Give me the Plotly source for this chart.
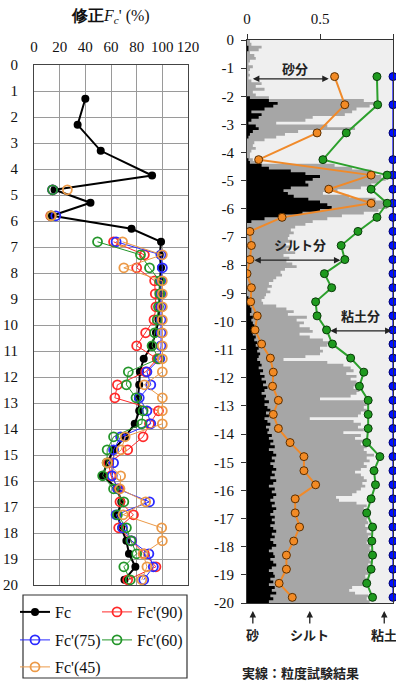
import plotly.graph_objects as go

W, H = 396, 688
OFF = 0  # page body margin is removed by the post script below

# ---------------- data ----------------
DEPTH = [1.3, 2.3, 3.3, 4.25, 4.8, 5.3, 5.8, 6.3, 6.8, 7.3, 7.8, 8.3, 8.8, 9.3, 9.8,
         10.3, 10.8, 11.3, 11.8, 12.3, 12.8, 13.3, 13.8, 14.3, 14.8, 15.3, 15.8,
         16.3, 16.8, 17.3, 17.8, 18.3, 18.8, 19.3, 19.8]

FC = [40, 34, 52, 92, 16, 44, 14, 76, 99, 98, 99, 98, 98, 97.5, 97, 95, 91.5, 85.5,
      82.5, 82, 81, 82, 78.5, 71, 62, 57, 53.5, 65, 68, 65, 68, 72, 74, 79, 70.5]
FC90 = [None, None, None, None, 14.5, None, 13, None, 62, 86, 80, 94, 94.5, 95, 93.5,
        87, 80, 96, 87, 65, 63, 97, 90, 85, 73, 58, 60, 66, 67, 77.5, 66, 76, 86, 95, 73]
FC75 = [None, None, None, None, 14.5, None, 17, None, 64, 99, 100, 99, 99, 99, 99,
        99, 99, 98, 88, 91, 82, 88, 91, 67.5, 62, 62, 61, 65, 90, 64, 69, 76, 89.5, 93, 85.5]
FC60 = [None, None, None, None, 14.5, None, 13.5, None, 49.5, 83, 90, 98, 98, 97, 96,
        94, 92, 97, 73.5, 72, 79.5, 85, 84, 62, 57, 57, 53.5, 62, 70, 65, 72, 75.5, 80, 70, 75]
FC45 = [None, None, None, None, 26, None, 13.5, None, 69, 100, 70, 100, 100, 100, 100,
        100, 100, 100, 100, 86, 100, 100, 100, 71, 68, 57, 67.5, 67, 87, 69.5, 99.5, 100, 85, 88, 84]

# grain size test results (cumulative fractions)
SAND = [0.60, 0.67, 0.48, 0.08, 0.85, 0.56, 0.85, 0.24, 0.02, 0.03, 0.02, 0.00, 0.03,
        0.025, 0.07, 0.055, 0.10, 0.16, 0.18, 0.175, 0.215, 0.18, 0.215, 0.295, 0.39,
        0.39, 0.47, 0.33, 0.33, 0.36, 0.32, 0.27, 0.27, 0.22, 0.31]
SAND_SILT = [0.89, 0.895, 0.68, 0.52, 0.96, 0.85, 0.96, 0.89, 0.76, 0.645, 0.67, 0.53,
             0.58, 0.47, 0.48, 0.545, 0.585, 0.71, 0.80, 0.77, 0.83, 0.83, 0.83, 0.82,
             0.91, 0.87, 0.88, 0.85, 0.82, 0.86, 0.855, 0.86, 0.85, 0.82, 0.86]
TOTAL = [1.0, 1.0, 1.0, 1.0, 1.0, 1.0, 1.0, 1.0, 1.0, 1.0, 1.0, 1.0, 1.0, 1.0, 1.0,
         1.0, 1.0, 1.0, 1.0, 1.0, 1.0, 1.0, 1.0, 1.0, 1.0, 1.0, 1.0, 1.0, 1.0, 1.0,
         1.0, 1.0, 1.0, 1.0, 1.0]

# continuous (estimated) profile, 0.1 m steps
PROF_DEPTH = [
    0.0, 0.1, 0.2, 0.3, 0.4, 0.5, 0.6, 0.7, 0.8, 0.9,
    1.0, 1.1, 1.2, 1.3, 1.4, 1.5, 1.6, 1.7, 1.8, 1.9,
    2.0, 2.1, 2.2, 2.3, 2.4, 2.5, 2.6, 2.7, 2.8, 2.9,
    3.0, 3.1, 3.2, 3.3, 3.4, 3.5, 3.6, 3.7, 3.8, 3.9,
    4.0, 4.1, 4.2, 4.3, 4.4, 4.5, 4.6, 4.7, 4.8, 4.9,
    5.0, 5.1, 5.2, 5.3, 5.4, 5.5, 5.6, 5.7, 5.8, 5.9,
    6.0, 6.1, 6.2, 6.3, 6.4, 6.5, 6.6, 6.7, 6.8, 6.9,
    7.0, 7.1, 7.2, 7.3, 7.4, 7.5, 7.6, 7.7, 7.8, 7.9,
    8.0, 8.1, 8.2, 8.3, 8.4, 8.5, 8.6, 8.7, 8.8, 8.9,
    9.0, 9.1, 9.2, 9.3, 9.4, 9.5, 9.6, 9.7, 9.8, 9.9,
    10.0, 10.1, 10.2, 10.3, 10.4, 10.5, 10.6, 10.7, 10.8, 10.9,
    11.0, 11.1, 11.2, 11.3, 11.4, 11.5, 11.6, 11.7, 11.8, 11.9,
    12.0, 12.1, 12.2, 12.3, 12.4, 12.5, 12.6, 12.7, 12.8, 12.9,
    13.0, 13.1, 13.2, 13.3, 13.4, 13.5, 13.6, 13.7, 13.8, 13.9,
    14.0, 14.1, 14.2, 14.3, 14.4, 14.5, 14.6, 14.7, 14.8, 14.9,
    15.0, 15.1, 15.2, 15.3, 15.4, 15.5, 15.6, 15.7, 15.8, 15.9,
    16.0, 16.1, 16.2, 16.3, 16.4, 16.5, 16.6, 16.7, 16.8, 16.9,
    17.0, 17.1, 17.2, 17.3, 17.4, 17.5, 17.6, 17.7, 17.8, 17.9,
    18.0, 18.1, 18.2, 18.3, 18.4, 18.5, 18.6, 18.7, 18.8, 18.9,
    19.0, 19.1, 19.2, 19.3, 19.4, 19.5, 19.6, 19.7, 19.8, 19.9,
    20.0]
PROF_SAND = [
    0.00, 0.00, 0.01, 0.01, 0.00, 0.00, 0.00, 0.00, 0.00, 0.00,
    0.00, 0.00, 0.00, 0.00, 0.00, 0.00, 0.00, 0.00, 0.00, 0.00,
    0.02, 0.15, 0.21, 0.18, 0.12, 0.03, 0.10, 0.08, 0.03, 0.01,
    0.06, 0.08, 0.04, 0.02, 0.01, 0.00, 0.00, 0.00, 0.00, 0.00,
    0.00, 0.00, 0.01, 0.02, 0.10, 0.15, 0.30, 0.40, 0.50, 0.45,
    0.40, 0.42, 0.30, 0.25, 0.28, 0.32, 0.42, 0.50, 0.55, 0.58,
    0.50, 0.38, 0.22, 0.12, 0.03, 0.00, 0.00, 0.00, 0.00, 0.00,
    0.00, 0.00, 0.00, 0.00, 0.00, 0.00, 0.00, 0.00, 0.00, 0.00,
    0.00, 0.00, 0.00, 0.00, 0.00, 0.00, 0.00, 0.00, 0.00, 0.00,
    0.00, 0.01, 0.01, 0.02, 0.02, 0.03, 0.03, 0.02, 0.04, 0.03,
    0.04, 0.05, 0.04, 0.05, 0.04, 0.06, 0.05, 0.07, 0.06, 0.08,
    0.07, 0.09, 0.08, 0.07, 0.09, 0.10, 0.08, 0.11, 0.09, 0.12,
    0.10, 0.13, 0.11, 0.14, 0.12, 0.10, 0.13, 0.12, 0.15, 0.12,
    0.14, 0.16, 0.13, 0.15, 0.12, 0.14, 0.16, 0.13, 0.15, 0.14,
    0.17, 0.15, 0.18, 0.16, 0.19, 0.15, 0.18, 0.20, 0.17, 0.19,
    0.16, 0.18, 0.20, 0.17, 0.19, 0.16, 0.20, 0.18, 0.15, 0.19,
    0.17, 0.20, 0.18, 0.16, 0.19, 0.17, 0.20, 0.18, 0.16, 0.19,
    0.17, 0.19, 0.16, 0.18, 0.20, 0.17, 0.19, 0.16, 0.18, 0.20,
    0.17, 0.15, 0.18, 0.19, 0.16, 0.18, 0.20, 0.17, 0.15, 0.18,
    0.19, 0.16, 0.18, 0.15, 0.19, 0.17, 0.20, 0.16, 0.18, 0.15,
    0.15]
PROF_SANDSILT = [
    0.02, 0.03, 0.10, 0.08, 0.02, 0.05, 0.06, 0.02, 0.01, 0.04,
    0.02, 0.01, 0.02, 0.01, 0.03, 0.10, 0.06, 0.12, 0.04, 0.06,
    0.15, 0.80, 0.88, 0.84, 0.75, 0.72, 0.67, 0.45, 0.40, 0.20,
    0.55, 0.74, 0.35, 0.26, 0.20, 0.12, 0.05, 0.04, 0.06, 0.03,
    0.02, 0.02, 0.04, 0.10, 0.60, 0.72, 0.85, 0.88, 0.92, 0.95,
    0.90, 0.85, 0.78, 0.62, 0.52, 0.70, 0.88, 0.97, 0.98, 0.96,
    0.90, 0.80, 0.65, 0.55, 0.45, 0.40, 0.33, 0.30, 0.32, 0.29,
    0.28, 0.31, 0.26, 0.30, 0.27, 0.33, 0.25, 0.29, 0.27, 0.31,
    0.34, 0.26, 0.23, 0.24, 0.20, 0.18, 0.15, 0.17, 0.14, 0.16,
    0.13, 0.12, 0.10, 0.11, 0.20, 0.27, 0.32, 0.28, 0.41, 0.34,
    0.39, 0.36, 0.43, 0.45, 0.36, 0.43, 0.52, 0.57, 0.55, 0.50,
    0.52, 0.50, 0.40, 0.25, 0.55, 0.66, 0.71, 0.73, 0.68, 0.75,
    0.71, 0.75, 0.76, 0.73, 0.77, 0.75, 0.71, 0.50, 0.80, 0.82,
    0.80, 0.82, 0.78, 0.76, 0.43, 0.73, 0.78, 0.76, 0.80, 0.66,
    0.78, 0.74, 0.80, 0.78, 0.82, 0.80, 0.82, 0.87, 0.82, 0.84,
    0.80, 0.82, 0.78, 0.74, 0.78, 0.80, 0.82, 0.79, 0.81, 0.78,
    0.75, 0.72, 0.61, 0.63, 0.75, 0.82, 0.80, 0.83, 0.81, 0.84,
    0.82, 0.83, 0.81, 0.84, 0.82, 0.85, 0.83, 0.84, 0.82, 0.85,
    0.84, 0.86, 0.83, 0.85, 0.84, 0.86, 0.83, 0.85, 0.82, 0.84,
    0.81, 0.83, 0.80, 0.82, 0.72, 0.70, 0.74, 0.83, 0.82, 0.84,
    0.84]

LEFT_X_TICKS = [0, 20, 40, 60, 80, 100, 120]
LEFT_Y_TICKS = [0, 1, 2, 3, 4, 5, 6, 7, 8, 9, 10, 11, 12, 13, 14, 15, 16, 17, 18, 19, 20]
RIGHT_X_TICKS = [0, 0.5, 1]
RIGHT_X_LABELS = ["0", "0.5", "1"]
RIGHT_Y_TICKS = [0, -1, -2, -3, -4, -5, -6, -7, -8, -9, -10, -11, -12, -13, -14, -15,
                 -16, -17, -18, -19, -20]
RIGHT_Y_LABELS = ["0", "-1", "-2", "-3", "-4", "-5", "-6", "-7", "-8", "-9", "-10",
                  "-11", "-12", "-13", "-14", "-15", "-16", "-17", "-18", "-19", "-20"]

SERIF = "Liberation Serif"
CJK = "Noto Sans CJK JP"


def px(x):
    return (x - OFF) / W


def py(y):
    return 1 - (y - OFF) / H


neg_depth = [-d for d in DEPTH]
neg_prof = [-d for d in PROF_DEPTH]

fig = go.Figure()

# ---------------- left panel ----------------
fig.add_trace(go.Scatter(x=FC, y=DEPTH, name="Fc", mode="lines+markers",
                         line=dict(color="black", width=2),
                         marker=dict(color="black", size=8, symbol="circle"),
                         xaxis="x", yaxis="y", legend="legend"))
left_series = [
    ("Fc'(90)", FC90, "#ff2a2a", "legend2"),
    ("Fc'(75)", FC75, "#2a2aff", "legend3"),
    ("Fc'(60)", FC60, "#24962a", "legend4"),
    ("Fc'(45)", FC45, "#ec9a48", "legend5"),
]
for name, vals, col, lg in left_series:
    fig.add_trace(go.Scatter(x=vals, y=DEPTH, name=name, mode="lines+markers",
                             connectgaps=False,
                             line=dict(color=col, width=1),
                             marker=dict(color=col, size=9, symbol="circle-open",
                                         line=dict(width=1.8)),
                             xaxis="x", yaxis="y", legend=lg))

# ---------------- right panel ----------------
fig.add_trace(go.Scatter(x=PROF_SANDSILT, y=neg_prof, mode="lines", line_shape="vh",
                         fill="tozerox", fillcolor="#a6a6a6", line=dict(width=0, color="#a6a6a6"),
                         showlegend=False, xaxis="x2", yaxis="y2", hoverinfo="skip"))
fig.add_trace(go.Scatter(x=PROF_SAND, y=neg_prof, mode="lines", line_shape="vh",
                         fill="tozerox", fillcolor="black", line=dict(width=0, color="black"),
                         showlegend=False, xaxis="x2", yaxis="y2", hoverinfo="skip"))

fig.add_trace(go.Scatter(x=TOTAL, y=neg_depth, mode="lines+markers", showlegend=False,
                         line=dict(color="#3030ff", width=1.5),
                         marker=dict(color="#0010ff", size=8, line=dict(color="#00006a", width=1)),
                         cliponaxis=False, xaxis="x2", yaxis="y2"))
fig.add_trace(go.Scatter(x=SAND_SILT, y=neg_depth, mode="lines+markers", showlegend=False,
                         line=dict(color="#2ca02c", width=2),
                         marker=dict(color="#1e9a1e", size=8, line=dict(color="#0a3a0a", width=1)),
                         xaxis="x2", yaxis="y2"))
fig.add_trace(go.Scatter(x=SAND, y=neg_depth, mode="lines+markers", showlegend=False,
                         line=dict(color="#f08a2a", width=2),
                         marker=dict(color="#f28a24", size=8, line=dict(color="#5a2e00", width=1)),
                         xaxis="x2", yaxis="y2"))

# background of right panel
fig.add_shape(type="rect", xref="x2 domain", yref="y2 domain", x0=0, x1=1, y0=0, y1=1,
              fillcolor="#efefef", line=dict(width=0), layer="below")

# legend box
fig.add_shape(type="rect", xref="paper", yref="paper", x0=px(23), x1=px(187),
              y0=py(678), y1=py(595), line=dict(color="#333", width=1.2),
              fillcolor="rgba(0,0,0,0)")

ann = []
ann.append(dict(xref="paper", yref="paper", x=px(111), y=py(16), showarrow=False,
                xanchor="center", yanchor="middle",
                text="<b>修正</b><i>F<sub>c</sub></i>' (%)",
                font=dict(family=SERIF, size=16, color="#111")))

# arrows in the right panel
arrow_defs = [
    (0.03, 0.56, -1.38, "砂分", 0.33, -1.0),
    (0.04, 0.64, -7.82, "シルト分", 0.36, -7.25),
    (0.56, 0.99, -10.33, "粘土分", 0.775, -9.77),
]
for xa, xb, yy, label, tx, ty in arrow_defs:
    ann.append(dict(xref="x2", yref="y2", x=xb, y=yy, ax=xa, ay=yy, axref="x2", ayref="y2",
                    text="", showarrow=True, arrowhead=2, arrowside="end+start",
                    arrowsize=1, arrowwidth=1.3, arrowcolor="#222"))
    ann.append(dict(xref="x2", yref="y2", x=tx, y=ty, text="<b>" + label + "</b>",
                    xanchor="center", yanchor="middle",
                    showarrow=False, font=dict(family=CJK, size=13, color="#222")))

# bottom labels
for xv, label in [(0.04, "砂"), (0.43, "シルト"), (0.94, "粘土")]:
    ann.append(dict(xref="x2", yref="paper", x=xv, y=py(611), ax=0, ay=14,
                    axref="pixel", ayref="pixel", text="", showarrow=True, arrowhead=2,
                    arrowsize=1, arrowwidth=1.3, arrowcolor="#222"))
    ann.append(dict(xref="x2", yref="paper", x=xv, y=py(634), text="<b>" + label + "</b>",
                    xanchor="center", yanchor="middle",
                    showarrow=False, font=dict(family=CJK, size=13, color="#222")))
ann.append(dict(xref="paper", yref="paper", x=px(300), y=py(672), showarrow=False,
                xanchor="center", yanchor="middle",
                text="<b>実線：粒度試験結果</b>", font=dict(family=CJK, size=13, color="#222")))

legend_common = dict(orientation="h", bgcolor="rgba(0,0,0,0)", borderwidth=0,
                     font=dict(family=SERIF, size=16, color="#111"),
                     xanchor="left", yanchor="middle")
COL1, COL2 = 15, 97
ROW1, ROW2, ROW3 = 612, 640, 667

fig.update_layout(
    width=W, height=H, margin=dict(l=0, r=0, t=0, b=0, autoexpand=False),
    paper_bgcolor="white", plot_bgcolor="white",
    showlegend=True,
    legend=dict(legend_common, x=px(COL1), y=py(ROW1)),
    legend2=dict(legend_common, x=px(COL2), y=py(ROW1)),
    legend3=dict(legend_common, x=px(COL1), y=py(ROW2)),
    legend4=dict(legend_common, x=px(COL2), y=py(ROW2)),
    legend5=dict(legend_common, x=px(COL1), y=py(ROW3)),
    annotations=ann,
    xaxis=dict(domain=[px(34), px(188)], anchor="y", side="top", range=[0, 120],
               automargin=False,
               tickvals=LEFT_X_TICKS, showgrid=True, gridcolor="#9a9a9a", gridwidth=1,
               showline=True, linecolor="#444", mirror=True, ticks="", zeroline=False,
               ticklabelstandoff=6, tickfont=dict(family=SERIF, size=15, color="#111")),
    yaxis=dict(domain=[py(585), py(65)], anchor="x", range=[20, 0],
               automargin=False,
               tickvals=LEFT_Y_TICKS, showgrid=True, gridcolor="#9a9a9a", gridwidth=1,
               showline=True, linecolor="#444", mirror=True, ticks="", zeroline=False,
               ticklabelstandoff=12, tickfont=dict(family=SERIF, size=15, color="#111")),
    xaxis2=dict(domain=[px(247), px(393)], anchor="y2", side="top", range=[0, 1],
                automargin=False,
                tickvals=RIGHT_X_TICKS, ticktext=RIGHT_X_LABELS, showgrid=False,
                showline=True, linecolor="#333", mirror=True, ticks="outside", ticklen=5,
                tickcolor="#333", zeroline=False, ticklabelstandoff=4,
                tickfont=dict(family=SERIF, size=15, color="#111")),
    yaxis2=dict(domain=[py(603), py(40)], anchor="x2", range=[-20, 0],
                automargin=False,
                tickvals=RIGHT_Y_TICKS, ticktext=RIGHT_Y_LABELS, showgrid=False,
                showline=True, linecolor="#333", mirror=True, ticks="outside", ticklen=5,
                tickcolor="#333", zeroline=False, ticklabelstandoff=4,
                tickfont=dict(family=SERIF, size=15, color="#111")),
)

fig.write_html("out.html",
               config={"displayModeBar": False},
               post_script="document.body.style.margin='0';document.body.style.overflow='hidden';")
